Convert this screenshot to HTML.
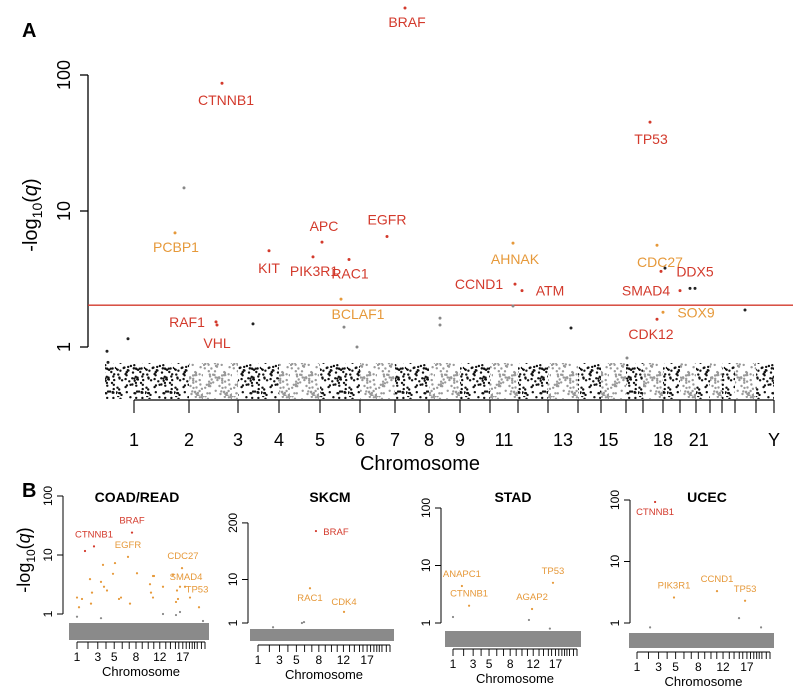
<!DOCTYPE html>
<html><head><meta charset="utf-8"><style>
body{margin:0;background:#fff}
svg{display:block;font-family:"Liberation Sans",Arial,sans-serif}
</style></head><body>
<svg id="c" width="800" height="695" viewBox="0 0 800 695">
<defs>
<pattern id="pb" width="29" height="36" patternUnits="userSpaceOnUse"><g id="pbg" fill="#111"></g></pattern>
<pattern id="pg" width="29" height="36" patternUnits="userSpaceOnUse"><g id="pgg" fill="#999"></g></pattern>
</defs>
</svg>
<script>
// ---- chromosome widths (axis units) ----
const chromWidths=[55,49,41,41,40,35,34,31,30,28,30,30,23,25,17,20,17,16,14,12,13,21,18];
const mainTickLabels=["1","2","3","4","5","6","7","8","9","11","13","15","18","21","Y"];
const mainTickIdx=[0,1,2,3,4,5,6,7,8,9.5,11.5,13.3,16,18.2,23];
const subTickLabels=["1","3","5","8","12","17"];
const subTickIdx=[0,2,4,7,11,16];
// ---- main panel data ----
const mainGenes=["BRAF","CTNNB1","TP53","","PCBP1","APC","EGFR","KIT","PIK3R1","RAC1","AHNAK","CDC27","DDX5","CCND1","ATM","SMAD4","SOX9","CDK12","BCLAF1","RAF1","VHL","","","","","","","","","","","","","","",""];
const mainPos=[271,88,516,50,41,188,253,135,179,215,379,523,527,381,388,546,529,523,207,82,83,-6,-27,119,210,306,306,379,437,493,531,556,561,611,-26,223];
const mainQ=[311,87,45,14.8,6.9,5.9,6.5,5.1,4.6,4.4,5.8,5.6,3.6,2.9,2.6,2.6,1.8,1.6,2.25,1.53,1.45,1.15,0.93,1.48,1.4,1.63,1.45,2.0,1.38,0.83,3.8,2.7,2.7,1.87,0.77,1.0];
const mainCls=["r","r","r","g","o","r","r","r","r","r","o","o","r","r","r","r","o","r","o","r","r","k","k","k","g","g","g","g","k","g","k","k","k","k","k","g"];
const mainLblDx=[2,4,1,0,1,2,0,0,1,1,2,3,34,-36,28,-34,33,-6,17,-29,0];
const mainLblDy=[14,17,17,0,14,-16,-17,17,14,14,16,17,0,0,0,0,0,15,15,0,18];
const threshold=2.03;
// ---- subpanels ----
const coadPos=[0,10,25,65,75,70,120,130,135,150,180,190,210,220,265,300,365,380,385,370,380,430,500,515,525,480,540,565,610,495,505,255,40,85,275,0,120,430,495,515,630];
const coadQ=[1.9,1.3,1.8,3.9,2.3,1.5,3.5,6.8,2.9,2.5,4.8,7.3,1.8,1.9,1.5,4.9,3.2,4.4,4.4,2.3,1.9,2.9,2.5,2.9,6.0,4.6,2.9,1.9,1.3,1.6,1.8,9.3,11.7,14,24,0.9,0.85,1.0,0.96,1.08,0.76];
const coadCls=["o","o","o","o","o","o","o","o","o","o","o","o","o","o","o","o","o","o","o","o","o","o","o","o","o","o","o","o","o","o","o","o","r","r","r","g","g","g","g","g","g"];
const coadLbl=["","","","","","","","","","","","","","","","","","","","","","","","","CDC27","SMAD4","TP53","","","","","EGFR","","CTNNB1","BRAF","","","","","",""];
const skcmPos=[281,252,417,73,213,223];
const skcmQ=[130,6.3,1.8,0.8,1.0,1.05];
const skcmCls=["r","o","o","g","g","g"];
const skcmLbl=["BRAF","RAC1","CDK4","","",""];
const stadPos=[46,83,408,516,0,392,500];
const stadQ=[4.4,2.0,1.75,5,1.27,1.13,0.8];
const stadCls=["o","o","o","o","g","g","g"];
const stadLbl=["ANAPC1","CTNNB1","AGAP2","TP53","","",""];
const ucecPos=[87,178,385,520,63,491,597];
const ucecQ=[93,2.6,3.3,2.3,0.85,1.2,0.85];
const ucecCls=["r","o","o","o","g","g","g"];
const ucecLbl=["CTNNB1","PIK3R1","CCND1","TP53","","",""];

const NS="http://www.w3.org/2000/svg";
const svg=document.getElementById('c');
const COL={r:"#d33a2c",o:"#e6993a",g:"#888",k:"#222"};
function el(t,a,p){const e=document.createElementNS(NS,t);for(const k in a)e.setAttribute(k,a[k]);(p||svg).appendChild(e);return e;}
function txt(s,a,p){const e=el('text',a,p);e.textContent=s;return e;}
const bounds=[0];chromWidths.forEach(w=>bounds.push(bounds[bounds.length-1]+w));
const total=bounds[bounds.length-1];
function idxToUnit(i){const f=Math.floor(i),r=i-f;return f>=bounds.length-1?bounds[bounds.length-1]:bounds[f]+r*(bounds[f+1]-bounds[f]);}

// pattern dots (texture)
let s=7;function rnd(){s=(s*16807)%2147483647;return s/2147483647;}
['pbg','pgg'].forEach(id=>{const g=document.getElementById(id);for(let i=0;i<70;i++)el('circle',{cx:(rnd()*29).toFixed(1),cy:(rnd()*36).toFixed(1),r:1.2},g);});

// ---------- Panel A ----------
txt("A",{x:22,y:37,'font-size':20,'font-weight':'bold'});
const gA=el('g',{});
const ax0=134,axW=640;
const xA=u=>ax0+u*axW/total;
const yA=v=>347-136*Math.log10(v);
const ya=el('g',{},gA);
el('line',{x1:88,y1:yA(100),x2:88,y2:yA(1),stroke:'#000','stroke-width':1.3},ya);
[1,10,100].forEach(v=>{el('line',{x1:80,x2:88,y1:yA(v),y2:yA(v),stroke:'#000','stroke-width':1.3},ya);
 const t=txt(String(v),{x:0,y:0,'font-size':18,'text-anchor':'middle',transform:`translate(70,${yA(v)}) rotate(-90)`},ya);});
const yt=el('text',{transform:'translate(37,215) rotate(-90)','font-size':20,'text-anchor':'middle'},gA);
yt.innerHTML='-log<tspan font-size="14" dy="5">10</tspan><tspan dy="-5">(</tspan><tspan font-style="italic">q</tspan>)';

const th=el('line',{x1:88,x2:793,y1:yA(threshold),y2:yA(threshold),stroke:'#d33a2c','stroke-width':1.3},gA);

const cl=el('g',{},gA);
el('rect',{x:105,y:363,width:ax0-105,height:36,fill:'url(#pb)'},cl);
for(let i=0;i<chromWidths.length;i++){el('rect',{x:xA(bounds[i]),y:363,width:xA(bounds[i+1])-xA(bounds[i]),height:36,fill:i%2?'url(#pg)':'url(#pb)'},cl);}
const xa=el('g',{},gA);
el('line',{x1:xA(0),x2:xA(total),y1:400,y2:400,stroke:'#000','stroke-width':1.3},xa);
bounds.forEach(b=>el('line',{x1:xA(b),x2:xA(b),y1:400,y2:413,stroke:'#000','stroke-width':1.1},xa));
mainTickLabels.forEach((l,i)=>{const t=txt(l,{x:xA(idxToUnit(mainTickIdx[i])),y:446,'font-size':18,'text-anchor':'middle'},xa);});
const xt=txt("Chromosome",{x:420,y:470,'font-size':20,'text-anchor':'middle'},gA);
mainPos.forEach((u,i)=>{const x=xA(u),y=yA(mainQ[i]);
 const c=el('circle',{cx:x,cy:y,r:1.5,fill:COL[mainCls[i]]},gA);
 
 if(mainGenes[i]){const t=txt(mainGenes[i],{x:x+mainLblDx[i],y:y+mainLblDy[i]+5,'font-size':14,'text-anchor':'middle',fill:COL[mainCls[i]]},gA);
  }});

// ---------- Panel B ----------
txt("B",{x:22,y:497,'font-size':20,'font-weight':'bold'});
const bt=el('text',{transform:'translate(30,560) rotate(-90)','font-size':18,'text-anchor':'middle'});
bt.innerHTML='-log<tspan font-size="12" dy="5">10</tspan><tspan dy="-5">(</tspan><tspan font-style="italic">q</tspan>)';

function sub(cfg,pos,q,cls,lbl){
 const g=el('g',{});
 const xs=u=>cfg.x0+u*cfg.w/total;
 const ys=v=>cfg.y1-cfg.dec*Math.log10(v);
 const t=txt(cfg.title,{x:cfg.tx,y:502,'font-size':14,'font-weight':'bold','text-anchor':'middle'},g);
 el('line',{x1:cfg.ax,x2:cfg.ax,y1:ys(cfg.ticks[cfg.ticks.length-1]),y2:ys(1),stroke:'#000'},g);
 cfg.ticks.forEach(v=>{el('line',{x1:cfg.ax-6,x2:cfg.ax,y1:ys(v),y2:ys(v),stroke:'#000'},g);
  const l=txt(String(v),{x:0,y:0,'font-size':12,'text-anchor':'middle',transform:`translate(${cfg.ax-11},${ys(v)}) rotate(-90)`},g);});
 const band=el('rect',{x:cfg.x0-8,y:cfg.b0,width:cfg.w+12,height:cfg.b1-cfg.b0,fill:'#8a8a8a'},g);
 
 el('line',{x1:xs(0),x2:xs(total),y1:cfg.base,y2:cfg.base,stroke:'#000'},g);
 bounds.forEach(b=>el('line',{x1:xs(b),x2:xs(b),y1:cfg.base,y2:cfg.base+7,stroke:'#000','stroke-width':0.9},g));
 subTickLabels.forEach((l,i)=>{const e=txt(l,{x:xs(idxToUnit(subTickIdx[i])),y:cfg.base+19,'font-size':12,'text-anchor':'middle'},g);});
 const xt=txt("Chromosome",{x:xs(total/2),y:cfg.base+34,'font-size':13,'text-anchor':'middle'},g);
 pos.forEach((u,i)=>{const x=xs(u),y=ys(q[i]);
  const c=el('circle',{cx:x,cy:y,r:1.1,fill:COL[cls[i]]},g);
  if(lbl[i]){const l=txt(lbl[i],{x:x+(cfg.ldx[lbl[i]]||0),y:y+(cfg.ldy[lbl[i]]||-9),'font-size':9.5,'text-anchor':'middle',fill:COL[cls[i]]},g);}});
}
sub({name:'coad-read-subplot',title:'COAD/READ',tx:137,ax:63,x0:77,w:128,y1:614,dec:59,ticks:[1,10,100],b0:623,b1:640,base:642,ldx:{SMAD4:13,TP53:12,CDC27:1},ldy:{SMAD4:5,TP53:6}},coadPos,coadQ,coadCls,coadLbl);
sub({name:'skcm-subplot',title:'SKCM',tx:330,ax:248,x0:258,w:132,y1:623,dec:43.5,ticks:[1,10,200],b0:629,b1:641,base:645,ldx:{BRAF:20},ldy:{BRAF:4,RAC1:13,CDK4:-7}},skcmPos,skcmQ,skcmCls,skcmLbl);
sub({name:'stad-subplot',title:'STAD',tx:513,ax:441,x0:453,w:124,y1:623,dec:57.5,ticks:[1,10,100],b0:631,b1:647,base:649,ldx:{},ldy:{}},stadPos,stadQ,stadCls,stadLbl);
sub({name:'ucec-subplot',title:'UCEC',tx:707,ax:630,x0:637,w:133,y1:623,dec:61.5,ticks:[1,10,100],b0:633,b1:648,base:652,ldx:{},ldy:{CTNNB1:13}},ucecPos,ucecQ,ucecCls,ucecLbl);
</script>
</body></html>
